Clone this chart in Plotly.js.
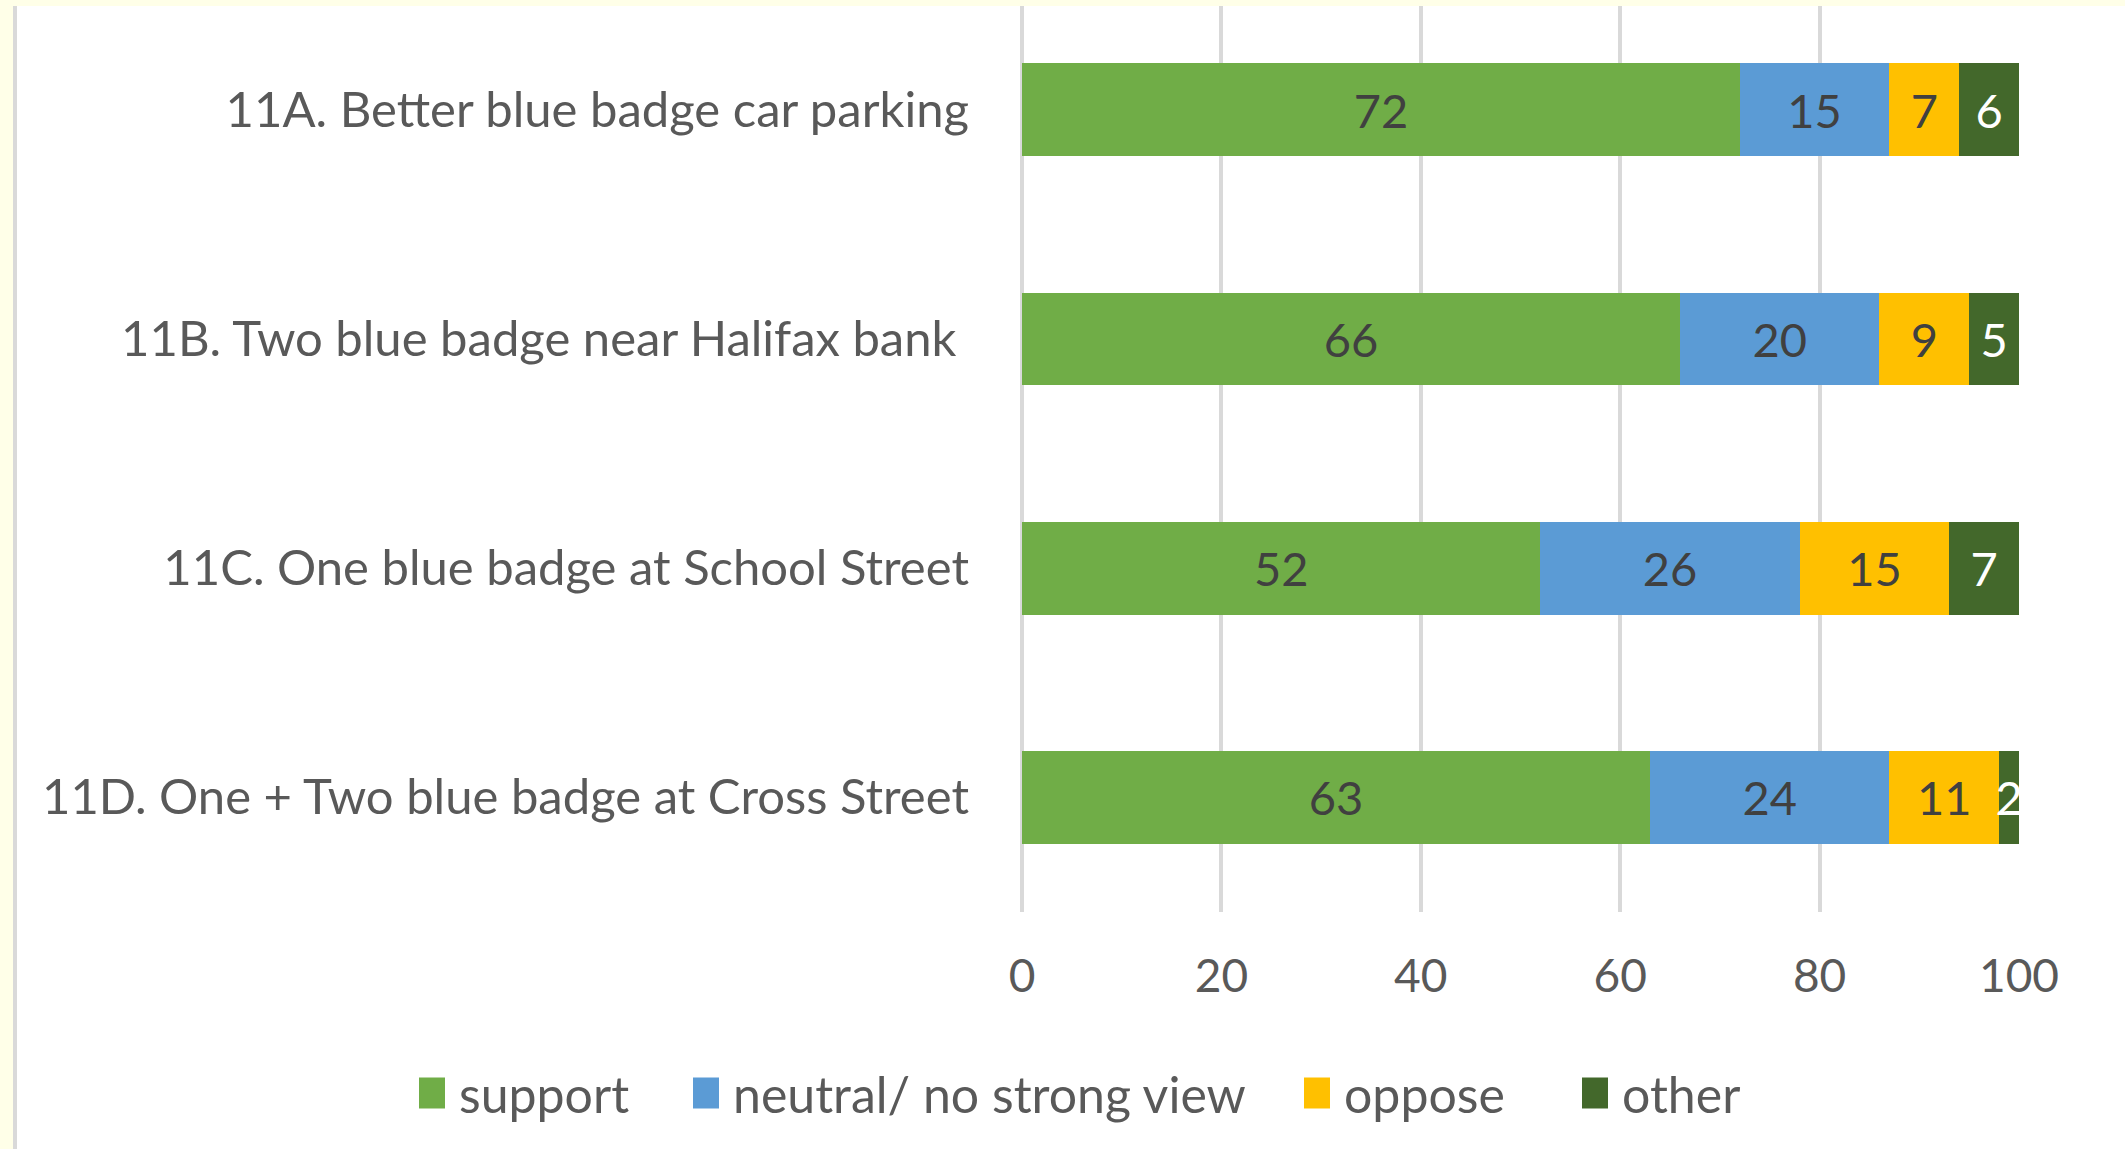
<!DOCTYPE html>
<html>
<head>
<meta charset="utf-8">
<script src="https://cdn.plot.ly/plotly-3.0.1.min.js"></script>
<style>
  html, body { margin: 0; padding: 0; background: #FFFFE8; width: 2125px; height: 1149px; overflow: hidden; }
  #frame { position: absolute; left: 13px; top: 6px; width: 2112px; height: 1143px; border-left: 4px solid #D9D9D9; box-sizing: border-box; background: #ffffff; }
  #chart { position: absolute; left: 0; top: 0; width: 2108px; height: 1143px; }
</style>
</head>
<body>
<div id="frame"><div id="chart"></div></div>
<script>
const categories = [
  "11A. Better blue badge car parking",
  "11B. Two blue badge near Halifax bank ",
  "11C. One blue badge at School Street",
  "11D. One + Two blue badge at Cross Street"
];
const support = [72, 66, 52, 63];
const neutral = [15, 20, 26, 24];
const oppose  = [7, 9, 15, 11];
const other   = [6, 5, 7, 2];
const seriesNames = ["support", "neutral/ no strong view", "oppose", "other"];
const xTicks = [0, 20, 40, 60, 80, 100];

const FONT = "Lato, 'Open Sans', sans-serif";
const colors = ["#70AD47", "#5B9BD5", "#FFC000", "#43682B"];
const textColors = ["#404040", "#404040", "#404040", "#FFFFFF"];
const values = [support, neutral, oppose, other];

// plot area in div px
const L = 1005, R = 106, T = 0, B = 237, W = 2108, H = 1143;
const plotW = W - L - R, plotH = H - T - B;
function px2x(p) { return (p - L) / plotW; }
function py2y(p) { return (plotH - (p - T)) / plotH; }

const legendTextStart = [442, 716, 1327, 1605];
const legendKeys = ["legend", "legend2", "legend3", "legend4"];

const traces = values.map((v, i) => ({
  type: "bar",
  orientation: "h",
  name: seriesNames[i],
  y: categories,
  x: v,
  text: v.map(String),
  textposition: "inside",
  insidetextanchor: "middle",
  constraintext: "none",
  textfont: { family: FONT, size: 47, color: textColors[i] },
  marker: { color: colors[i], line: { width: 0 } },
  legend: legendKeys[i],
  hoverinfo: "x+name"
}));

const layout = {
  width: W, height: H,
  margin: { l: L, r: R, t: T, b: B, pad: 0 },
  paper_bgcolor: "#ffffff",
  plot_bgcolor: "#ffffff",
  barmode: "stack",
  bargap: 0.594,
  font: { family: FONT, color: "#595959", size: 46 },
  xaxis: {
    range: [0, 100],
    tickvals: xTicks,
    ticktext: xTicks.map(String),
    showgrid: true, gridcolor: "#D9D9D9", gridwidth: 4,
    zeroline: true, zerolinecolor: "#D9D9D9", zerolinewidth: 4,
    showline: false, ticks: "",
    ticklabelstandoff: 33,
    tickfont: { family: FONT, size: 46, color: "#595959" },
    fixedrange: true
  },
  yaxis: {
    type: "category",
    categoryorder: "array", categoryarray: categories,
    range: [3.502, -0.454],
    showgrid: false, zeroline: false, showline: false, ticks: "",
    ticklabelstandoff: 52,
    tickfont: { family: FONT, size: 49, color: "#595959" },
    fixedrange: true
  },
  showlegend: true
};
legendKeys.forEach((k, i) => {
  layout[k] = {
    x: px2x(legendTextStart[i] - 40),
    xanchor: "left",
    y: py2y(1087),
    yanchor: "middle",
    orientation: "h",
    bgcolor: "rgba(0,0,0,0)",
    borderwidth: 0,
    font: { family: FONT, size: 50, color: "#595959" }
  };
});

Plotly.newPlot("chart", traces, layout, { displayModeBar: false, staticPlot: true }).then(() => {
  document.querySelectorAll(".legendpoints path").forEach(p => {
    p.setAttribute("d", "M6,15.5H-20V-15.5H6Z");
  });
});
</script>
</body>
</html>
